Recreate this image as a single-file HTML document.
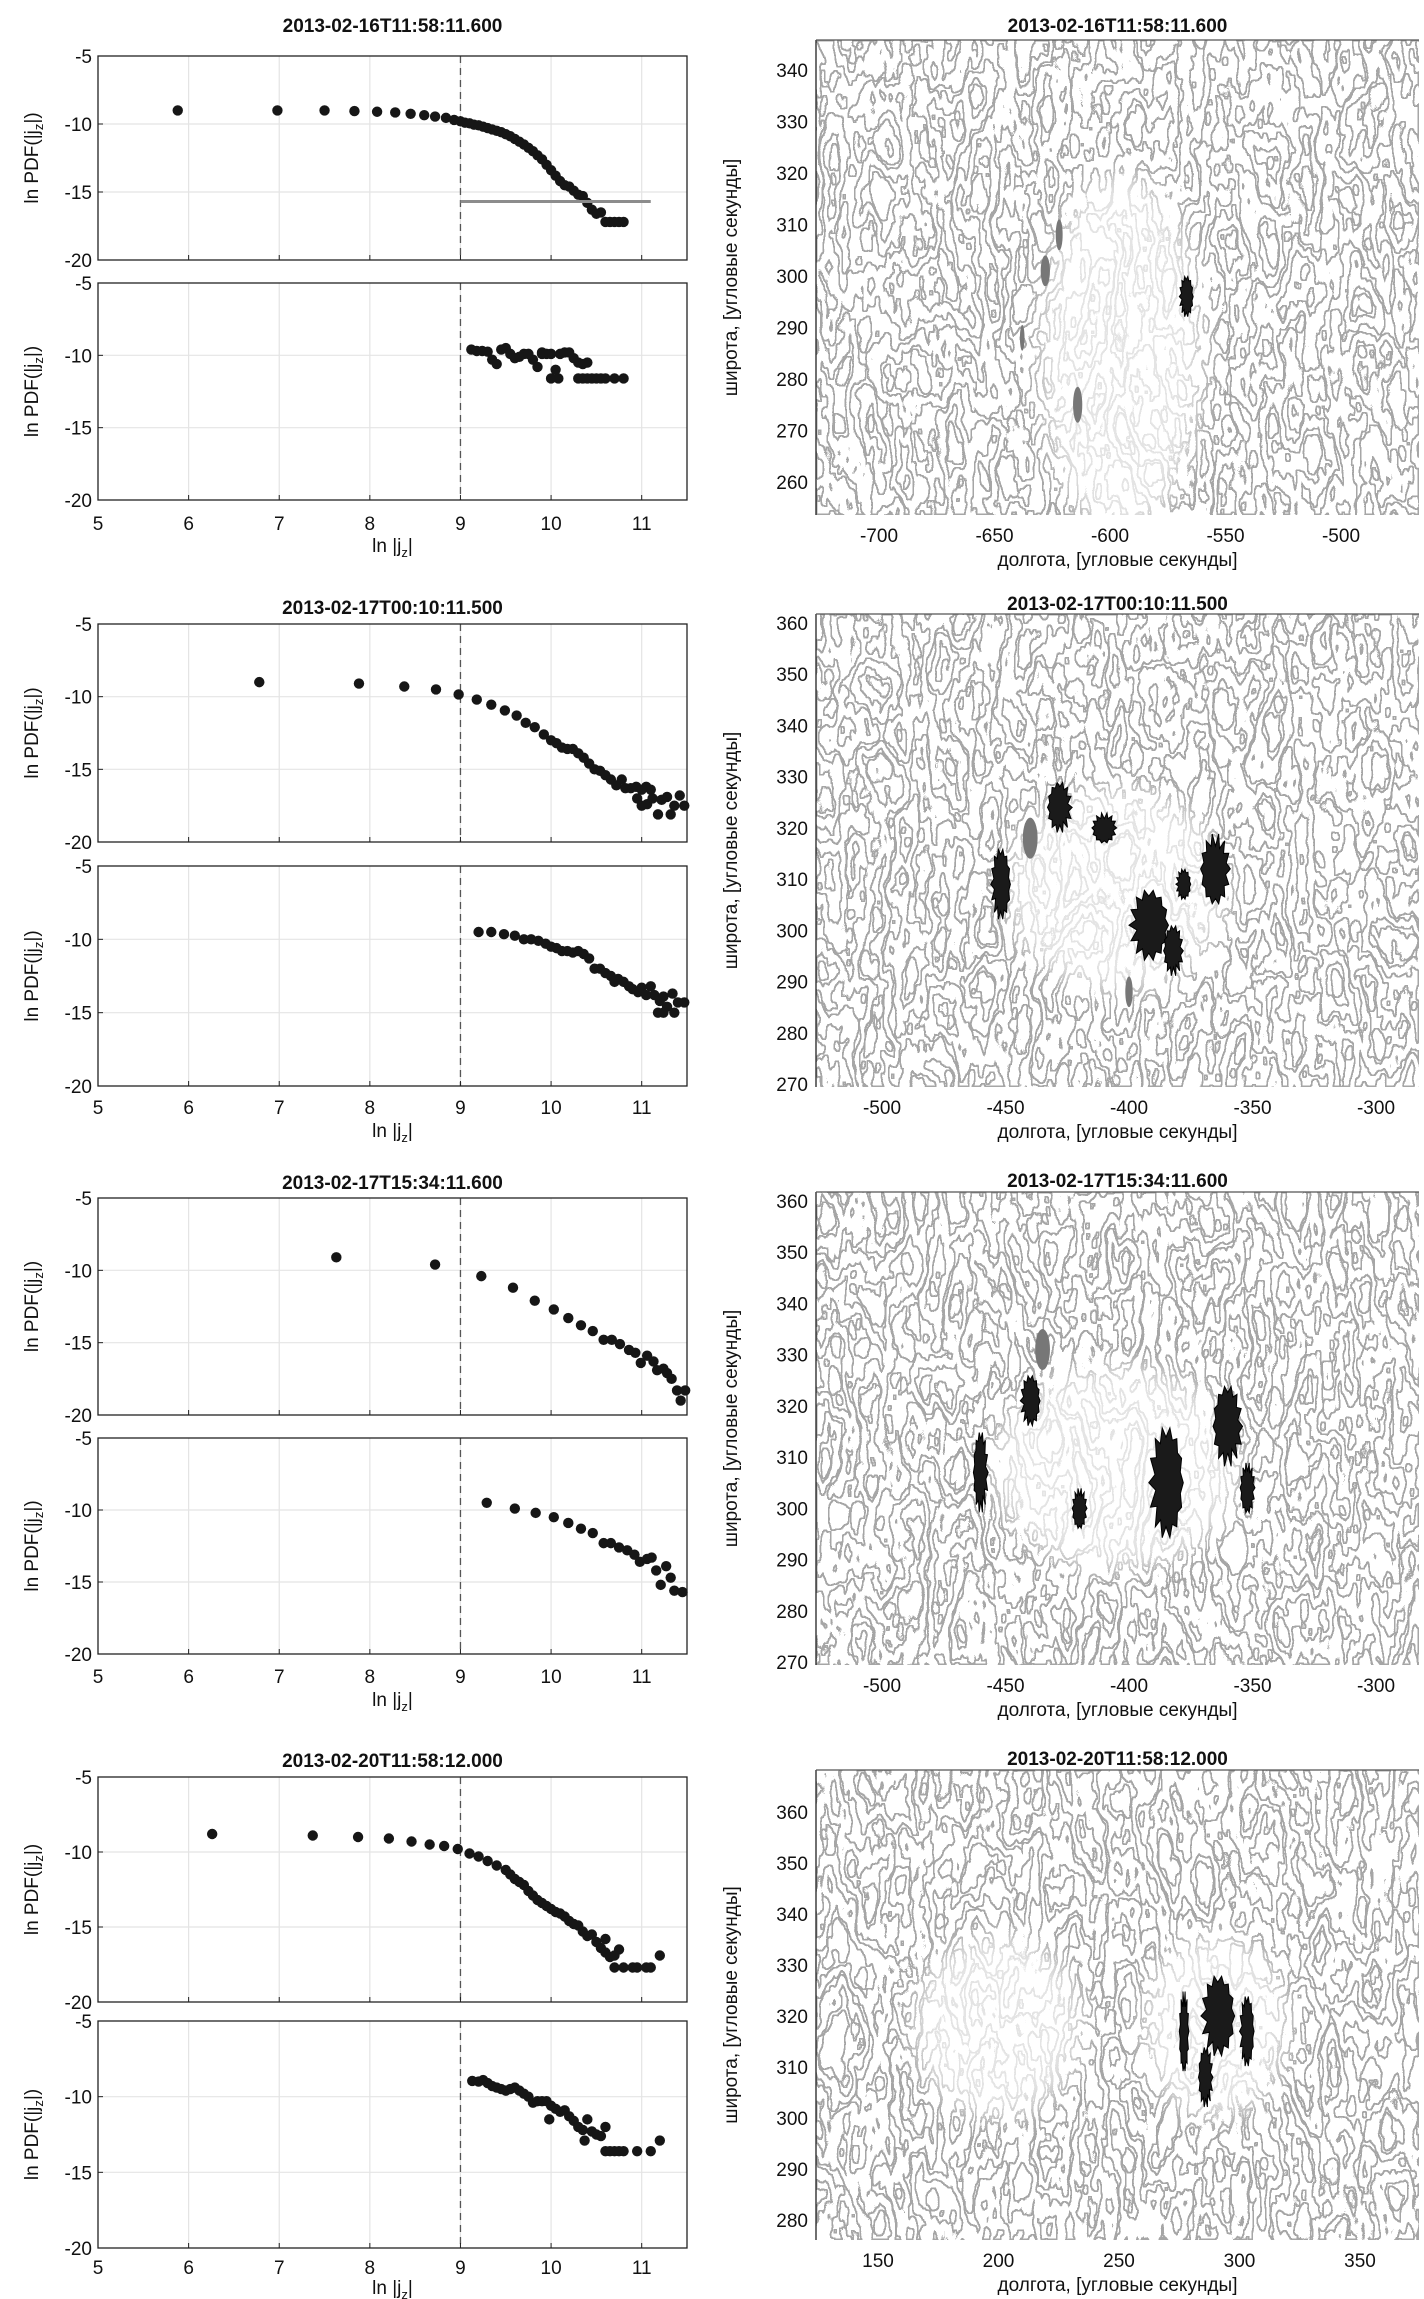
<!DOCTYPE html>
<html><head><meta charset="utf-8">
<style>
html,body{margin:0;padding:0;background:#fff;}
svg{display:block;font-family:"Liberation Sans",sans-serif;}
</style></head>
<body>
<svg id="fig" width="1424" height="2299" viewBox="0 0 1424 2299" xmlns="http://www.w3.org/2000/svg">
<defs>
<filter id="tex0" x="0" y="0" width="1" height="1" filterUnits="objectBoundingBox">
 <feTurbulence type="fractalNoise" baseFrequency="0.028 0.012" numOctaves="4" seed="3" result="n"/>
 <feColorMatrix in="n" type="matrix" values="0 0 0 0 0 0 0 0 0 0 0 0 0 0 0 1.5 0 0 0 -0.25" result="a"/>
 <feComponentTransfer in="a" result="b"><feFuncA type="discrete" tableValues="0 1 0 1 0 1 0"/></feComponentTransfer>
 <feMorphology in="b" operator="erode" radius="1.7" result="e"/>
 <feComposite in="b" in2="e" operator="out" result="edge"/>
 <feFlood flood-color="#a6a6a6"/>
 <feComposite in2="edge" operator="in"/>
</filter>
<filter id="tex1" x="0" y="0" width="1" height="1" filterUnits="objectBoundingBox">
 <feTurbulence type="fractalNoise" baseFrequency="0.028 0.012" numOctaves="4" seed="11" result="n"/>
 <feColorMatrix in="n" type="matrix" values="0 0 0 0 0 0 0 0 0 0 0 0 0 0 0 1.5 0 0 0 -0.25" result="a"/>
 <feComponentTransfer in="a" result="b"><feFuncA type="discrete" tableValues="0 1 0 1 0 1 0"/></feComponentTransfer>
 <feMorphology in="b" operator="erode" radius="1.7" result="e"/>
 <feComposite in="b" in2="e" operator="out" result="edge"/>
 <feFlood flood-color="#a6a6a6"/>
 <feComposite in2="edge" operator="in"/>
</filter>
<filter id="tex2" x="0" y="0" width="1" height="1" filterUnits="objectBoundingBox">
 <feTurbulence type="fractalNoise" baseFrequency="0.028 0.012" numOctaves="4" seed="23" result="n"/>
 <feColorMatrix in="n" type="matrix" values="0 0 0 0 0 0 0 0 0 0 0 0 0 0 0 1.5 0 0 0 -0.25" result="a"/>
 <feComponentTransfer in="a" result="b"><feFuncA type="discrete" tableValues="0 1 0 1 0 1 0"/></feComponentTransfer>
 <feMorphology in="b" operator="erode" radius="1.7" result="e"/>
 <feComposite in="b" in2="e" operator="out" result="edge"/>
 <feFlood flood-color="#a6a6a6"/>
 <feComposite in2="edge" operator="in"/>
</filter>
<filter id="tex3" x="0" y="0" width="1" height="1" filterUnits="objectBoundingBox">
 <feTurbulence type="fractalNoise" baseFrequency="0.028 0.012" numOctaves="4" seed="37" result="n"/>
 <feColorMatrix in="n" type="matrix" values="0 0 0 0 0 0 0 0 0 0 0 0 0 0 0 1.5 0 0 0 -0.25" result="a"/>
 <feComponentTransfer in="a" result="b"><feFuncA type="discrete" tableValues="0 1 0 1 0 1 0"/></feComponentTransfer>
 <feMorphology in="b" operator="erode" radius="1.7" result="e"/>
 <feComposite in="b" in2="e" operator="out" result="edge"/>
 <feFlood flood-color="#a6a6a6"/>
 <feComposite in2="edge" operator="in"/>
</filter>
<filter id="soft" x="-50%" y="-50%" width="200%" height="200%"><feGaussianBlur stdDeviation="12"/></filter>
</defs>
</svg>
<script>
// ---------- data ----------
const titles = ["2013-02-16T11:58:11.600","2013-02-17T00:10:11.500","2013-02-17T15:34:11.600","2013-02-20T11:58:12.000"];
const xTicks = [5,6,7,8,9,10,11];
const yTicks = [-5,-10,-15,-20];
const thresholdX = 9;
const p1Level = -15.7;

const p1Top = [[5.88,-9],[6.98,-9],[7.5,-9],[7.83,-9.05],[8.08,-9.1],[8.28,-9.15],[8.45,-9.25],[8.6,-9.35],[8.72,-9.45],[8.84,-9.55],[8.93,-9.7],
[9.0,-9.8],[9.05,-9.9],[9.1,-9.95],[9.15,-10.05],[9.2,-10.1],[9.25,-10.2],[9.3,-10.3],[9.35,-10.4],[9.4,-10.5],[9.45,-10.6],[9.5,-10.75],[9.55,-10.9],[9.6,-11.1],[9.65,-11.3],[9.7,-11.5],[9.75,-11.75],[9.8,-12],[9.85,-12.3],[9.9,-12.6],[9.95,-13],[10.0,-13.4],[10.05,-13.8],[10.1,-14.2],[10.15,-14.5],[10.2,-14.6],[10.25,-14.9],[10.3,-15.2],[10.35,-15.3],[10.4,-15.8],[10.45,-16.3],[10.5,-16.6],[10.55,-16.5],[10.6,-17.2],[10.65,-17.2],[10.7,-17.2],[10.75,-17.2],[10.8,-17.2]];
const p1Bot = [[9.12,-9.6],[9.18,-9.7],[9.24,-9.7],[9.3,-9.75],[9.35,-10.3],[9.4,-10.6],[9.45,-9.6],[9.5,-9.5],[9.55,-9.9],[9.6,-10.2],[9.65,-10.1],[9.7,-9.9],[9.75,-9.9],[9.8,-10.3],[9.85,-10.8],[9.9,-9.9],[9.95,-9.9],[10.0,-11.6],[10.05,-11.0],[10.08,-11.6],[10.0,-9.9],[10.1,-9.9],[10.15,-9.8],[10.2,-9.8],[10.25,-10.2],[10.3,-10.5],[10.35,-10.6],[10.4,-10.5],[10.3,-11.6],[10.35,-11.6],[10.4,-11.6],[10.45,-11.6],[10.5,-11.6],[10.55,-11.6],[10.6,-11.6],[10.7,-11.6],[10.8,-11.6],[9.9,-9.8]];
const p2Top = [[6.78,-9],[7.88,-9.1],[8.38,-9.3],[8.73,-9.5],[8.98,-9.85],[9.18,-10.2],[9.34,-10.55],[9.49,-10.95],[9.62,-11.3],[9.72,-11.8],[9.82,-12.1],[9.92,-12.6],[10.0,-13],[10.06,-13.2],[10.12,-13.5],[10.18,-13.6],[10.24,-13.6],[10.3,-13.9],[10.36,-14.2],[10.42,-14.6],[10.48,-15],[10.54,-15.1],[10.6,-15.4],[10.66,-15.7],[10.72,-16.1],[10.78,-15.7],[10.82,-16.3],[10.88,-16.3],[10.94,-16.2],[11.0,-16.4],[11.05,-16.2],[11.1,-16.4],[10.95,-17.0],[11.0,-17.5],[11.06,-17.4],[11.12,-17.0],[11.18,-18.1],[11.22,-17.1],[11.28,-16.9],[11.32,-18.1],[11.36,-17.5],[11.42,-16.8],[11.47,-17.5]];
const p2Bot = [[9.2,-9.5],[9.34,-9.5],[9.48,-9.65],[9.6,-9.75],[9.7,-10.0],[9.78,-10.0],[9.86,-10.1],[9.94,-10.3],[10.0,-10.5],[10.06,-10.6],[10.12,-10.8],[10.18,-10.8],[10.24,-10.9],[10.3,-10.8],[10.36,-11.0],[10.42,-11.3],[10.48,-12.0],[10.54,-12.0],[10.6,-12.3],[10.66,-12.5],[10.7,-12.9],[10.74,-12.7],[10.8,-12.9],[10.86,-13.2],[10.9,-13.4],[10.96,-13.6],[11.0,-13.3],[11.05,-13.8],[11.1,-13.2],[11.14,-13.8],[11.2,-14.2],[11.24,-13.9],[11.28,-14.6],[11.34,-13.7],[11.4,-14.3],[11.47,-14.3],[11.18,-15.0],[11.24,-15.0],[11.36,-15.0]];
const p3Top = [[7.63,-9.1],[8.72,-9.6],[9.23,-10.4],[9.58,-11.2],[9.82,-12.1],[10.03,-12.7],[10.19,-13.3],[10.33,-13.8],[10.46,-14.2],[10.58,-14.8],[10.67,-14.8],[10.76,-15.1],[10.86,-15.5],[10.93,-15.7],[10.99,-16.4],[11.06,-15.9],[11.13,-16.3],[11.17,-16.9],[11.24,-16.8],[11.28,-17.1],[11.33,-17.5],[11.39,-18.3],[11.43,-19.0],[11.48,-18.3]];
const p3Bot = [[9.29,-9.5],[9.6,-9.9],[9.83,-10.2],[10.03,-10.5],[10.19,-10.9],[10.33,-11.3],[10.46,-11.6],[10.58,-12.3],[10.66,-12.3],[10.75,-12.6],[10.84,-12.8],[10.92,-13.1],[10.98,-13.6],[11.06,-13.4],[11.11,-13.3],[11.16,-14.2],[11.21,-15.2],[11.27,-13.9],[11.32,-14.7],[11.36,-15.6],[11.45,-15.7]];
const p4Top = [[6.26,-8.8],[7.37,-8.9],[7.87,-9.0],[8.21,-9.1],[8.46,-9.3],[8.66,-9.5],[8.82,-9.6],[8.97,-9.8],[9.1,-10.1],[9.2,-10.3],[9.3,-10.6],[9.4,-10.9],[9.5,-11.2],[9.55,-11.5],[9.6,-11.8],[9.65,-12.0],[9.7,-12.2],[9.75,-12.6],[9.8,-12.9],[9.85,-13.2],[9.9,-13.4],[9.95,-13.6],[10.0,-13.8],[10.05,-14.0],[10.1,-14.1],[10.15,-14.3],[10.2,-14.6],[10.25,-14.8],[10.3,-14.9],[10.35,-15.3],[10.4,-15.6],[10.45,-15.5],[10.5,-16.0],[10.55,-16.4],[10.6,-16.7],[10.6,-15.8],[10.65,-17.0],[10.7,-16.9],[10.75,-16.5],[10.7,-17.7],[10.8,-17.7],[10.9,-17.7],[10.95,-17.7],[11.05,-17.7],[11.1,-17.7],[11.2,-16.9]];
const p4Bot = [[9.13,-8.96],[9.2,-9.0],[9.25,-8.9],[9.3,-9.1],[9.35,-9.3],[9.4,-9.4],[9.45,-9.5],[9.5,-9.6],[9.55,-9.5],[9.6,-9.4],[9.65,-9.6],[9.7,-9.8],[9.75,-10.0],[9.8,-10.4],[9.85,-10.3],[9.9,-10.3],[9.95,-10.3],[9.98,-11.5],[10.0,-10.6],[10.05,-10.8],[10.1,-11.0],[10.15,-10.9],[10.2,-11.3],[10.25,-11.6],[10.3,-12.0],[10.35,-12.2],[10.37,-12.9],[10.4,-11.5],[10.45,-12.3],[10.5,-12.5],[10.55,-12.6],[10.6,-12.0],[10.6,-13.6],[10.65,-13.6],[10.7,-13.6],[10.75,-13.6],[10.8,-13.6],[10.95,-13.6],[11.1,-13.6],[11.2,-12.9]];

// map axes (arcsec)
const map1XTicks = [-700,-650,-600,-550,-500];
const map1YTicks = [260,270,280,290,300,310,320,330,340];
const map23XTicks = [-500,-450,-400,-350,-300];
const map23YTicks = [270,280,290,300,310,320,330,340,350,360];
const map4XTicks = [150,200,250,300,350];
const map4YTicks = [280,290,300,310,320,330,340,350,360];
// sunspot regions [lon, lat, halfWidthArcsec, halfHeightArcsec]
const spots1 = [[-567,296,3,4]];
const pores1 = [[-622,308,1.5,3],[-628,301,2,3],[-638,288,1,2.5],[-614,275,2,3.5]];
const spots2 = [[-452,309,4,7],[-428,324,5,5],[-410,320,5,3],[-392,301,8,7],[-382,296,4,5],[-365,312,6,7],[-378,309,3,3]];
const pores2 = [[-440,318,3,4],[-400,288,1.5,3]];
const spots3 = [[-440,321,4,5],[-460,307,3,8],[-420,300,3,4],[-385,305,7,11],[-360,316,6,8],[-352,304,3,5]];
const pores3 = [[-435,331,3,4]];
const spots4 = [[291,320,7,8],[286,308,3,6],[277,317,2,8],[303,317,3,7]];
const pores4 = [];

// ---------- drawing ----------
const NS = "http://www.w3.org/2000/svg";
const svg = document.getElementById('fig');
function mk(tag, attrs, parent){
  const e = document.createElementNS(NS, tag);
  for (const k in attrs) e.setAttribute(k, attrs[k]);
  (parent||svg).appendChild(e);
  return e;
}
function txt(x,y,s,size,anchor,weight,parent){
  const t = mk('text',{x:x,y:y,'font-size':size,'text-anchor':anchor||'middle','font-weight':weight||'normal',fill:'#111'},parent);
  t.textContent = s;
  return t;
}

const LX0 = 98, LX1 = 687;
const panels = [
  {title:25, top:[56,260], bot:[283,500], tick:524, xl:548, dTop:p1Top, dBot:p1Bot},
  {title:607, top:[624,842], bot:[866,1086], tick:1108, xl:1133, dTop:p2Top, dBot:p2Bot},
  {title:1182, top:[1198,1415], bot:[1438,1654], tick:1677, xl:1702, dTop:p3Top, dBot:p3Bot},
  {title:1760, top:[1777,2002], bot:[2021,2248], tick:2268, xl:2290, dTop:p4Top, dBot:p4Bot}
];
function xScale(v){ return LX0 + (v-5)/(11.5-5)*(LX1-LX0); }
function yScaleFn(r){ return v => r[0] + (v+5)/(-15)*(r[1]-r[0]); }

function drawAxes(pi, which, r, data){
  const g = mk('g',{});
  
  
  const ys = yScaleFn(r);
  xTicks.forEach(t=>{ if(t>5) mk('line',{x1:xScale(t),x2:xScale(t),y1:r[0],y2:r[1],stroke:'#e4e4e4','stroke-width':1.2},g); });
  yTicks.forEach(t=>{ if(t>-20 && t<-5) mk('line',{x1:LX0,x2:LX1,y1:ys(t),y2:ys(t),stroke:'#e4e4e4','stroke-width':1.2},g); });
  const th = mk('line',{x1:xScale(thresholdX),x2:xScale(thresholdX),y1:r[0],y2:r[1],stroke:'#555','stroke-width':1.3,'stroke-dasharray':'7,5'},g);
  
  
  mk('rect',{x:LX0,y:r[0],width:LX1-LX0,height:r[1]-r[0],fill:'none',stroke:'#222','stroke-width':1.3},g);
  yTicks.forEach(t=>{
    mk('line',{x1:LX0,x2:LX0+5,y1:ys(t),y2:ys(t),stroke:'#222'},g);
    const l = txt(LX0-6, ys(t)+7, String(t), 19, 'end', 'normal', g);
    
    
  });
  xTicks.forEach(t=>{ mk('line',{x1:xScale(t),x2:xScale(t),y1:r[1],y2:r[1]-5,stroke:'#222'},g); });
  const cy = (r[0]+r[1])/2;
  const yl = mk('text',{x:0,y:0,'font-size':19,'text-anchor':'middle',fill:'#111',transform:'translate(38,'+cy+') rotate(-90)'},g);
  
  
  yl.innerHTML = 'ln PDF(|j<tspan font-size="13" dy="5">z</tspan><tspan dy="-5">|)</tspan>';
  data.forEach(p=>{
    const c = mk('circle',{cx:xScale(p[0]),cy:ys(p[1]),r:5.2,fill:'#161616'},g);
    
    
  });
  return {g, ys};
}

panels.forEach((P,pi)=>{
  const t = txt((LX0+LX1)/2, P.title+7, titles[pi], 19, 'middle', 'bold');
  
  
  const a = drawAxes(pi,'top',P.top,P.dTop);
  if(pi===0){
    const l = mk('line',{x1:xScale(9),x2:xScale(11.1),y1:a.ys(p1Level),y2:a.ys(p1Level),stroke:'#8c8c8c','stroke-width':3});
    
    
  }
  drawAxes(pi,'bottom',P.bot,P.dBot);
  xTicks.forEach(v=>{
    const l = txt(xScale(v), P.tick+6, String(v), 19, 'middle');
    
    
  });
  const xl = mk('text',{x:(LX0+LX1)/2,y:P.xl+4,'font-size':19,'text-anchor':'middle',fill:'#111'});
  
  
  xl.innerHTML = 'ln |j<tspan font-size="13" dy="5">z</tspan><tspan dy="-5">|</tspan>';
});

// ---------- maps ----------
const MX0 = 816, MX1 = 1419;
const maps = [
  {title:25, top:40, bot:515, xr:[-700,879,-500,1341], yr:[340,70,260,482], xt:map1XTicks, yt:map1YTicks, spots:spots1, pores:pores1, quiet:[[-595,285,35,35]]},
  {title:603, top:614, bot:1087, xr:[-500,882,-300,1376], yr:[360,623,270,1084], xt:map23XTicks, yt:map23YTicks, spots:spots2, pores:pores2, quiet:[[-405,308,45,20]]},
  {title:1180, top:1192, bot:1665, xr:[-500,882,-300,1376], yr:[360,1201,270,1662], xt:map23XTicks, yt:map23YTicks, spots:spots3, pores:pores3, quiet:[[-405,308,50,20]]},
  {title:1758, top:1770, bot:2240, xr:[150,878,350,1360], yr:[360,1812,280,2220], xt:map4XTicks, yt:map4YTicks, spots:spots4, pores:pores4, quiet:[[200,318,35,18],[290,318,30,18]]}
];
maps.forEach((M,mi)=>{
  const sx = v => M.xr[1] + (v-M.xr[0])/(M.xr[2]-M.xr[0])*(M.xr[3]-M.xr[1]);
  const sy = v => M.yr[1] + (v-M.yr[0])/(M.yr[2]-M.yr[0])*(M.yr[3]-M.yr[1]);
  const g = mk('g',{});
  
  
  const cp = mk('clipPath',{id:'clip'+mi},g);
  mk('rect',{x:MX0,y:M.top,width:MX1-MX0,height:M.bot-M.top},cp);
  const inner = mk('g',{'clip-path':'url(#clip'+mi+')'},g);
  mk('rect',{x:MX0,y:M.top,width:MX1-MX0,height:M.bot-M.top,fill:'#fff'},inner);
  const tex = mk('rect',{x:MX0,y:M.top,width:MX1-MX0,height:M.bot-M.top,fill:'#fff',filter:'url(#tex'+mi+')'},inner);
  
  
  M.quiet.forEach(q=>{
    mk('ellipse',{cx:sx(q[0]),cy:sy(q[1]),rx:Math.abs(sx(q[0]+q[2])-sx(q[0])),ry:Math.abs(sy(q[1]+q[3])-sy(q[1])),fill:'#fff',opacity:0.7,filter:'url(#soft)'},inner);
  });
  M.pores.forEach(p=>{
    const e = mk('ellipse',{cx:sx(p[0]),cy:sy(p[1]),rx:Math.abs(sx(p[0]+p[2])-sx(p[0])),ry:Math.abs(sy(p[1]+p[3])-sy(p[1])),fill:'#777'},inner);
    
    
  });
  M.spots.forEach((s,si)=>{
    const cx = sx(s[0]), cy = sy(s[1]);
    const rx = Math.abs(sx(s[0]+s[2])-cx), ry = Math.abs(sy(s[1]+s[3])-cy);
    let pts = [];
    const n = 28;
    for(let k=0;k<n;k++){
      const ang = k/n*2*Math.PI;
      const f = (k%2===0) ? 1.0 : 0.6 + 0.25*Math.abs(Math.sin(k*1.7+si));
      pts.push((cx+Math.cos(ang)*rx*f).toFixed(1)+','+(cy+Math.sin(ang)*ry*f).toFixed(1));
    }
    const p = mk('polygon',{points:pts.join(' '),fill:'#1a1a1a',stroke:'#000','stroke-width':1},inner);
    
    
  });
  mk('line',{x1:MX0,x2:MX0,y1:M.top,y2:M.bot,stroke:'#222','stroke-width':1.3},g);
  mk('line',{x1:MX0,x2:MX1,y1:M.top,y2:M.top,stroke:'#555','stroke-width':1.3},g);
  const t = txt((MX0+MX1)/2, M.title+7, titles[mi], 19, 'middle', 'bold');
  
  
  M.xt.forEach(v=>{
    const l = txt(sx(v), M.bot+27, String(v), 19, 'middle');
    
    
  });
  M.yt.forEach(v=>{
    const l = txt(MX0-8, sy(v)+7, String(v), 19, 'end');
    
    
  });
  const xl = txt((MX0+MX1)/2, M.bot+51, 'долгота, [угловые секунды]', 19, 'middle');
  
  
  const yl = mk('text',{x:0,y:0,'font-size':19,'text-anchor':'middle',fill:'#111',transform:'translate(737,'+((M.top+M.bot)/2)+') rotate(-90)'});
  yl.textContent = 'широта, [угловые секунды]';
  
  
});
</script>
</body></html>
